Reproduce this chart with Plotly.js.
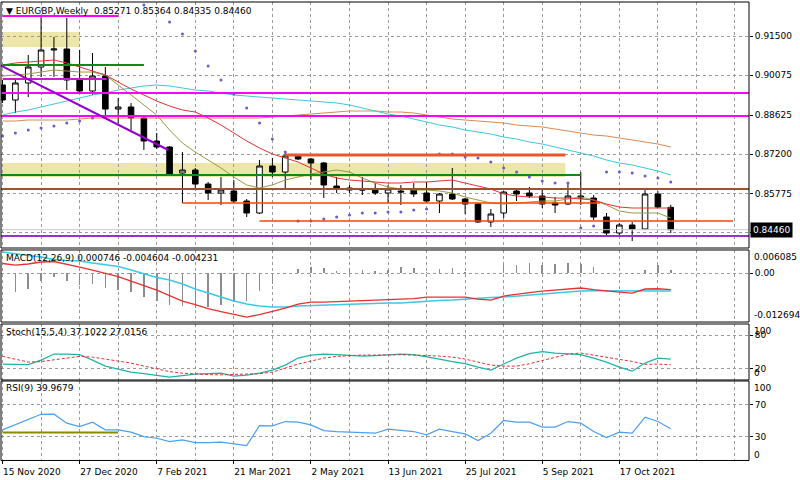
<!DOCTYPE html>
<html><head><meta charset="utf-8">
<script src="https://cdn.plot.ly/plotly-3.0.1.min.js"></script>
<style>html,body{margin:0;padding:0;background:#fff}#chart{width:800px;height:480px}</style>
</head><body><div id="chart"></div>
<script>
// ---------- data ----------
const symbol = 'EURGBP', period = 'Weekly';
const tickBars = [0, 6, 12, 18, 24, 30, 36, 42, 48];
const tickLabels = ['15 Nov 2020','27 Dec 2020','7 Feb 2021','21 Mar 2021','2 May 2021','13 Jun 2021','25 Jul 2021','5 Sep 2021','17 Oct 2021'];
const priceTicks = [0.91500, 0.90075, 0.88625, 0.87200, 0.85775, 0.84350];
const priceRange = [0.83794, 0.92736];

const open = [0.89719,0.89174,0.89792,0.90373,0.90991,0.91027,0.89901,0.89501,0.90046,0.88846,
  0.88919,0.88519,0.87683,0.87465,0.86520,0.86629,0.86120,0.85793,0.85866,0.85502,
  0.85066,0.86775,0.86556,0.87138,0.87029,0.86884,0.86047,0.85975,0.85938,0.85902,
  0.85793,0.85866,0.85902,0.85793,0.85502,0.85757,0.85575,0.85393,0.84739,0.85066,
  0.85866,0.85793,0.85684,0.85430,0.85393,0.85684,0.85611,0.84921,0.84339,0.84630,
  0.84484,0.85757,0.85271];
const high = [0.89901,0.89901,0.90809,0.92191,0.91464,0.92154,0.90991,0.90882,0.90373,0.89246,
  0.89065,0.88556,0.87974,0.87501,0.87283,0.86702,0.86193,0.86375,0.86266,0.85575,
  0.86993,0.87065,0.87283,0.87174,0.87065,0.86920,0.86375,0.86084,0.86375,0.86156,
  0.86084,0.86084,0.86156,0.86193,0.85793,0.86702,0.85611,0.85430,0.85211,0.85866,
  0.85975,0.86011,0.85902,0.85648,0.86193,0.86556,0.85720,0.85066,0.84702,0.84739,
  0.85938,0.85866,0.85364];
const low = [0.89065,0.88701,0.89283,0.90010,0.90010,0.89537,0.89464,0.89355,0.88628,0.88337,
  0.88083,0.87356,0.87392,0.86447,0.85430,0.85975,0.85539,0.85357,0.85430,0.84921,
  0.85030,0.86375,0.85902,0.86993,0.86266,0.85611,0.85793,0.85793,0.85720,0.85720,
  0.85430,0.85357,0.85648,0.85466,0.85066,0.85539,0.85030,0.84702,0.84557,0.84884,
  0.85502,0.85611,0.85248,0.85066,0.85357,0.85357,0.84812,0.84266,0.84266,0.84048,
  0.84448,0.85248,0.84335];
const close = [0.89174,0.89792,0.90373,0.90991,0.91027,0.89901,0.89501,0.90046,0.88846,0.88919,
  0.88519,0.87683,0.87465,0.86484,0.86629,0.86120,0.85793,0.85902,0.85502,0.85066,
  0.86775,0.86556,0.87138,0.87029,0.86884,0.86084,0.85975,0.85902,0.85902,0.85793,
  0.85938,0.85829,0.85757,0.85502,0.85757,0.85575,0.85393,0.84739,0.85030,0.85829,
  0.85757,0.85684,0.85393,0.85357,0.85684,0.85611,0.84921,0.84339,0.84630,0.84484,
  0.85757,0.85284,0.84460];

const maRed = [0.90446,0.90519,0.90555,0.90591,0.90628,0.90519,0.90373,0.90228,0.90082,0.89828,
  0.89573,0.89355,0.89137,0.88955,0.88810,0.88737,0.88519,0.88265,0.87974,0.87683,
  0.87429,0.87211,0.87065,0.86920,0.86702,0.86484,0.86338,0.86266,0.86229,0.86193,
  0.86156,0.86156,0.86193,0.86193,0.86229,0.86266,0.86156,0.86047,0.85938,0.85757,
  0.85684,0.85648,0.85648,0.85611,0.85611,0.85575,0.85539,0.85393,0.85284,0.85248,
  0.85248,0.85248,0.85248];
const maOlive = [0.90046,0.90082,0.90119,0.90191,0.90264,0.90228,0.90191,0.90191,0.90082,0.89719,
  0.89355,0.88992,0.88628,0.88083,0.87611,0.87283,0.86993,0.86702,0.86375,0.86084,
  0.85975,0.86084,0.86266,0.86375,0.86484,0.86556,0.86629,0.86556,0.86338,0.86156,
  0.86011,0.85938,0.85902,0.85902,0.85866,0.85793,0.85648,0.85539,0.85430,0.85393,
  0.85430,0.85466,0.85502,0.85502,0.85575,0.85648,0.85539,0.85357,0.85139,0.85066,
  0.85066,0.85066,0.84884];
const maCyan = [0.88628,0.88737,0.88810,0.88919,0.89028,0.89137,0.89246,0.89355,0.89428,0.89537,
  0.89610,0.89683,0.89719,0.89683,0.89610,0.89537,0.89501,0.89428,0.89355,0.89319,
  0.89283,0.89246,0.89210,0.89174,0.89137,0.89101,0.89065,0.88992,0.88883,0.88774,
  0.88665,0.88592,0.88483,0.88374,0.88265,0.88192,0.88083,0.88010,0.87938,0.87829,
  0.87756,0.87647,0.87574,0.87465,0.87356,0.87247,0.87138,0.86993,0.86884,0.86811,
  0.86702,0.86593,0.86447];
const maTan = [0.88410,0.88410,0.88447,0.88447,0.88447,0.88447,0.88483,0.88519,0.88519,0.88519,
  0.88519,0.88519,0.88519,0.88519,0.88519,0.88519,0.88519,0.88519,0.88519,0.88519,
  0.88519,0.88556,0.88592,0.88628,0.88665,0.88701,0.88737,0.88774,0.88774,0.88774,
  0.88737,0.88737,0.88701,0.88628,0.88556,0.88483,0.88447,0.88410,0.88374,0.88337,
  0.88265,0.88228,0.88192,0.88119,0.88047,0.87974,0.87901,0.87865,0.87792,0.87720,
  0.87647,0.87574,0.87465];
const sar = [0.87865,0.87974,0.88083,0.88156,0.88228,0.88337,0.88410,0.88519,0.88556,null,
  null,0.92627,null,0.92009,0.91573,0.90955,0.90410,0.89901,0.89392,0.88883,
  0.88337,0.87756,0.87283,0.84775,0.84775,0.84848,0.84921,0.84993,0.85066,0.85066,
  0.85102,0.85102,0.85175,0.85211,0.87211,0.87211,0.87102,0.87065,0.86920,0.86702,
  0.86556,0.86375,0.86229,0.86156,0.86156,0.84521,0.84594,0.86556,0.86556,0.86520,
  0.86411,0.86338,0.86193];

// drawn objects: price levels with start / end bar (null = whole width)
const levelPrice = [0.92227, 0.89937, 0.90446, 0.89428, 0.88592, 0.86447, 0.85938, 0.85430, 0.84775, 0.87174, 0.84230];
const levelStart = [0, 0, 0, null, null, -0.2, null, 14, 20, 22, null];
const levelEnd   = [9, 8.1, 11, null, null, 45, null, 46.5, 56.85, 43.8, null];
const trendBars = [-0.2, 12.9];
const trendPrices = [0.90446, 0.87356];
const zoneBars = [[0, 6], [-0.2, 43.8]];
const zonePrices = [[0.91100, 0.91645], [0.86375, 0.86884]];

// MACD(12,26,9)
const macdRange = [-0.012694, 0.006085];
const macdHist = [null,-0.00496,-0.00402,-0.00201,-0.00097,-0.00201,-0.00297,-0.00279,-0.00383,-0.00428,
  -0.00488,-0.00618,-0.00722,-0.00827,-0.00853,-0.00905,-0.00879,-0.00827,-0.00749,-0.00722,
  -0.00454,-0.00279,-0.00018,0.00120,0.00156,0.00138,0.00060,0.00120,0.00094,0.00068,
  0.00094,0.00156,0.00138,0.00034,0.00120,0.00138,0.00034,0.00021,0.00008,0.00209,
  0.00224,0.00269,0.00224,0.00243,0.00269,0.00243,0.00156,0.00021,0.00021,-0.00018,
  0.00094,0.00224,0.000746];
const macdCyan = [0.00556,0.00503,0.00464,0.00425,0.00360,0.00334,0.00321,0.00269,0.00216,0.00177,
  0.00086,-0.00018,-0.00110,-0.00175,-0.00279,-0.00409,-0.00514,-0.00618,-0.00722,-0.00801,
  -0.00853,-0.00879,-0.00879,-0.00853,-0.00840,-0.00827,-0.00814,-0.00801,-0.00788,-0.00775,
  -0.00775,-0.00775,-0.00749,-0.00722,-0.00709,-0.00696,-0.00670,-0.00657,-0.00631,-0.00618,
  -0.00592,-0.00566,-0.00540,-0.00514,-0.00475,-0.00462,-0.00456,-0.00454,-0.00456,-0.00462,
  -0.00456,-0.00454,-0.004604];
const macdRed = [0.00256,0.00216,0.00243,0.00295,0.00308,0.00243,0.00164,0.00086,0.00008,-0.00083,
  -0.00201,-0.00318,-0.00436,-0.00579,-0.00722,-0.00814,-0.00918,-0.00996,-0.01062,-0.01140,
  -0.01075,-0.00996,-0.00905,-0.00801,-0.00749,-0.00749,-0.00736,-0.00722,-0.00722,-0.00709,
  -0.00696,-0.00689,-0.00657,-0.00618,-0.00618,-0.00618,-0.00618,-0.00670,-0.00696,-0.00592,
  -0.00540,-0.00501,-0.00462,-0.00436,-0.00409,-0.00383,-0.00423,-0.00462,-0.00488,-0.00514,
  -0.00409,-0.00402,-0.004231];

// Stoch(15,5,4)
const stochMain = [28.4,28.4,27.5,35.5,46.3,46.3,45.4,35.5,24.8,19.4,
  14.0,11.3,7.7,5.0,7.7,10.4,11.3,12.2,6.8,8.6,
  12.2,17.6,26.6,39.1,44.5,46.3,45.4,44.5,42.7,43.6,
  45.4,46.3,45.4,41.8,37.3,32.9,29.3,23.0,17.6,28.4,
  39.1,47.2,50.8,48.1,47.2,45.4,39.1,32.0,23.0,15.8,
  30.2,39.1,37.1022];
const stochSignal = [42.2,37.3,32.0,32.9,35.5,39.1,42.2,40.9,37.3,33.8,
  30.2,24.8,19.4,14.9,12.2,10.4,9.5,9.2,9.5,10.4,
  11.3,14.0,21.2,28.4,33.8,39.1,42.2,43.6,44.5,44.5,
  45.1,45.1,44.5,44.0,42.7,40.9,37.3,32.0,26.6,24.8,
  24.8,28.9,34.3,40.4,46.3,48.1,44.0,40.4,36.8,33.2,
  27.8,28.4,27.0156];
const stochLevels = [20, 80];

// RSI(9)
const rsi = [38.5,44.8,51.8,58.1,58.3,47.0,42.7,48.2,38.5,38.5,
  35.6,30.1,28.0,23.7,25.9,22.5,22.5,23.0,20.8,18.7,
  43.9,43.6,49.0,48.2,44.8,37.6,36.4,35.6,35.6,34.3,
  39.4,37.6,36.4,32.2,39.4,36.4,33.5,25.0,34.3,50.3,
  48.2,48.2,41.9,41.9,49.0,47.0,36.4,28.8,35.6,34.3,
  54.5,49.0,39.9679];
const rsiLevels = [30, 70];
const rsiLine = {value: 35.1, bars: [0, 9]};

// ---------- styles ----------
const FONT = 'DejaVu Sans';
const GRID = {showgrid: true, gridcolor: '#9a9a9a', gridwidth: 1, griddash: '3px,3px'};
const levelStyle = [
  {color: '#FF00FF', width: 2}, {color: '#C81EC8', width: 2}, {color: '#108A10', width: 2},
  {color: '#FF00FF', width: 2}, {color: '#FF00FF', width: 2}, {color: '#108A10', width: 2},
  {color: '#A0522D', width: 2}, {color: '#FF4500', width: 1.5}, {color: '#FF4500', width: 1.5},
  {color: '#E8562A', width: 3}, {color: '#9932CC', width: 2}
];
const D = {main: [0.4652, 1], macd: [0.3043, 0.4609], stoch: [0.1783, 0.3], rsi: [0.0033, 0.1761]};

const idx = open.map((_, i) => i);
const last = close.length - 1;

const traces = [
  {type: 'candlestick', x: idx, open, high, low, close, xaxis: 'x', yaxis: 'y',
   increasing: {line: {color: '#000', width: 1}, fillcolor: '#fff'},
   decreasing: {line: {color: '#000', width: 1}, fillcolor: '#000'},
   whiskerwidth: 0, hoverinfo: 'skip', showlegend: false},
  {type: 'scatter', mode: 'lines', x: idx, y: maTan, line: {color: '#D88A55', width: 1}, yaxis: 'y'},
  {type: 'scatter', mode: 'lines', x: idx, y: maCyan, line: {color: '#3CC8DC', width: 1}, yaxis: 'y'},
  {type: 'scatter', mode: 'lines', x: idx, y: maOlive, line: {color: '#9A9A40', width: 1}, yaxis: 'y'},
  {type: 'scatter', mode: 'lines', x: idx, y: maRed, line: {color: '#E83030', width: 1}, yaxis: 'y'},
  {type: 'scatter', mode: 'markers', x: idx, y: sar, marker: {color: '#6A5ACD', size: 3}, yaxis: 'y'},
  {type: 'bar', x: idx, y: macdHist, width: 0.12, marker: {color: '#8c8c8c', line: {width: 0}}, yaxis: 'y2'},
  {type: 'scatter', mode: 'lines', x: idx, y: macdCyan, line: {color: '#3CC8E6', width: 1.5}, yaxis: 'y2'},
  {type: 'scatter', mode: 'lines', x: idx, y: macdRed, line: {color: '#E83030', width: 1.3}, yaxis: 'y2'},
  {type: 'scatter', mode: 'lines', x: idx, y: stochMain, line: {color: '#20B2AA', width: 1.2}, yaxis: 'y3'},
  {type: 'scatter', mode: 'lines', x: idx, y: stochSignal, line: {color: '#E83030', width: 1, dash: '3px,2px'}, yaxis: 'y3'},
  {type: 'scatter', mode: 'lines', x: rsiLine.bars, y: [rsiLine.value, rsiLine.value], line: {color: '#8A8A00', width: 2}, yaxis: 'y4'},
  {type: 'scatter', mode: 'lines', x: idx, y: rsi, line: {color: '#4CA0F0', width: 1.2}, yaxis: 'y4'}
].map(t => Object.assign({hoverinfo: 'skip', showlegend: false}, t));

const shapes = [];
// zones (below)
zoneBars.forEach((b, i) => shapes.push({type: 'rect', layer: 'below', xref: 'x', yref: 'y',
  x0: b[0], x1: b[1], y0: zonePrices[i][0], y1: zonePrices[i][1],
  fillcolor: '#EEE6A8', line: {width: 0}}));
// bid line
shapes.push({type: 'line', xref: 'paper', x0: 0, x1: 1, yref: 'y', y0: close[last], y1: close[last],
  line: {color: '#C8C8C8', width: 1}});
// levels
levelPrice.forEach((p, i) => {
  const full = levelStart[i] === null;
  shapes.push({type: 'line', xref: full ? 'paper' : 'x', x0: full ? 0 : levelStart[i], x1: full ? 1 : levelEnd[i],
    yref: 'y', y0: p, y1: p, line: levelStyle[i]});
});
// trend line
shapes.push({type: 'line', xref: 'x', yref: 'y', x0: trendBars[0], x1: trendBars[1],
  y0: trendPrices[0], y1: trendPrices[1], line: {color: '#9400D3', width: 2}});
// panel frames
['y', 'y2', 'y3', 'y4'].forEach(a => shapes.push({type: 'rect', xref: 'paper', x0: 0, x1: 1,
  yref: a + ' domain', y0: 0, y1: 1, line: {color: '#000', width: 1}, fillcolor: 'rgba(0,0,0,0)'}));

const nb = '\u00a0';
const f9 = {family: FONT, size: 9, color: '#000'};
const annotations = [
  {xref: 'paper', yref: 'paper', x: 0, y: 1, xanchor: 'left', yanchor: 'top', xshift: 3, yshift: -2,
   text: '▼' + nb + symbol + ',' + period + nb + nb + [open[last], high[last], low[last], close[last]].map(v => v.toFixed(5)).join(nb),
   showarrow: false, font: f9, borderpad: 1},
  {xref: 'paper', yref: 'y2 domain', x: 0, y: 1, xanchor: 'left', yanchor: 'top', xshift: 3, yshift: -1,
   text: 'MACD(12,26,9)' + nb + [macdHist[last], macdCyan[last], macdRed[last]].map(v => v.toFixed(6)).join(nb),
   showarrow: false, font: f9, borderpad: 1},
  {xref: 'paper', yref: 'y3 domain', x: 0, y: 1, xanchor: 'left', yanchor: 'top', xshift: 3, yshift: -1,
   text: 'Stoch(15,5,4)' + nb + [stochMain[last], stochSignal[last]].map(v => v.toFixed(4)).join(nb),
   showarrow: false, font: f9, borderpad: 1},
  {xref: 'paper', yref: 'y4 domain', x: 0, y: 1, xanchor: 'left', yanchor: 'top', xshift: 3, yshift: 0,
   text: 'RSI(9)' + nb + rsi[last].toFixed(4), showarrow: false, font: f9, borderpad: 1},
  // axis edge labels
  {xref: 'paper', yref: 'y2', x: 1, y: macdRange[1], xanchor: 'left', yanchor: 'top', xshift: 3, text: macdRange[1].toFixed(6), showarrow: false, font: f9, borderpad: 1},
  {xref: 'paper', yref: 'y2', x: 1, y: macdRange[0], xanchor: 'left', yanchor: 'bottom', xshift: 3, text: macdRange[0].toFixed(6), showarrow: false, font: f9, borderpad: 1},
  {xref: 'paper', yref: 'y3', x: 1, y: 100, xanchor: 'left', yanchor: 'top', xshift: 3, text: '100', showarrow: false, font: f9, borderpad: 1},
  {xref: 'paper', yref: 'y3', x: 1, y: 0, xanchor: 'left', yanchor: 'bottom', xshift: 3, text: '0', showarrow: false, font: f9, borderpad: 1},
  {xref: 'paper', yref: 'y4', x: 1, y: 100, xanchor: 'left', yanchor: 'top', xshift: 3, text: '100', showarrow: false, font: f9, borderpad: 1},
  {xref: 'paper', yref: 'y4', x: 1, y: 0, xanchor: 'left', yanchor: 'bottom', xshift: 3, yshift: -2, text: '0', showarrow: false, font: f9, borderpad: 1},
  // current price box
  {xref: 'paper', yref: 'y', x: 1, y: close[last], xanchor: 'left', yanchor: 'middle', xshift: 1,
   text: close[last].toFixed(5), showarrow: false, font: {family: FONT, size: 9, color: '#fff'},
   bgcolor: '#000', borderpad: 2}
];

const yBase = {side: 'right', anchor: 'x', ticks: 'outside', ticklen: 3, tickcolor: '#000',
  tickfont: f9, zeroline: false, showline: false, fixedrange: true};
const layout = {
  width: 800, height: 480, margin: {l: 1, r: 51, t: 2, b: 18, pad: 0},
  paper_bgcolor: '#fff', plot_bgcolor: '#fff', showlegend: false, hovermode: false,
  boxgap: 0.38, bargap: 0,
  font: f9,
  xaxis: Object.assign({domain: [0, 1], anchor: 'y4', range: [-0.12, 58.09], tickmode: 'array',
    tickvals: tickBars, ticktext: tickLabels, ticklabelposition: 'outside right', ticklabelstandoff: 3,
    ticks: 'outside', ticklen: 3, tickcolor: '#000', tickfont: f9, zeroline: false, showline: false,
    rangeslider: {visible: false}, fixedrange: true,
    minor: Object.assign({tickmode: 'linear', tick0: 0, dtick: 3, ticks: ''}, GRID)}, GRID),
  yaxis: Object.assign({}, yBase, GRID, {domain: D.main, range: priceRange, tickmode: 'array',
    tickvals: priceTicks, ticktext: priceTicks.map(v => v.toFixed(5))}),
  yaxis2: Object.assign({}, yBase, GRID, {domain: D.macd, range: macdRange, tickmode: 'array',
    tickvals: [0], ticktext: ['0.00']}),
  yaxis3: Object.assign({}, yBase, GRID, {domain: D.stoch, range: [0, 100], tickmode: 'array',
    tickvals: stochLevels, ticktext: stochLevels.map(String)}),
  yaxis4: Object.assign({}, yBase, GRID, {domain: D.rsi, range: [0, 100], tickmode: 'array',
    tickvals: rsiLevels, ticktext: rsiLevels.map(String)}),
  shapes, annotations
};
Plotly.newPlot('chart', traces, layout, {staticPlot: true, displayModeBar: false});
</script></body></html>
